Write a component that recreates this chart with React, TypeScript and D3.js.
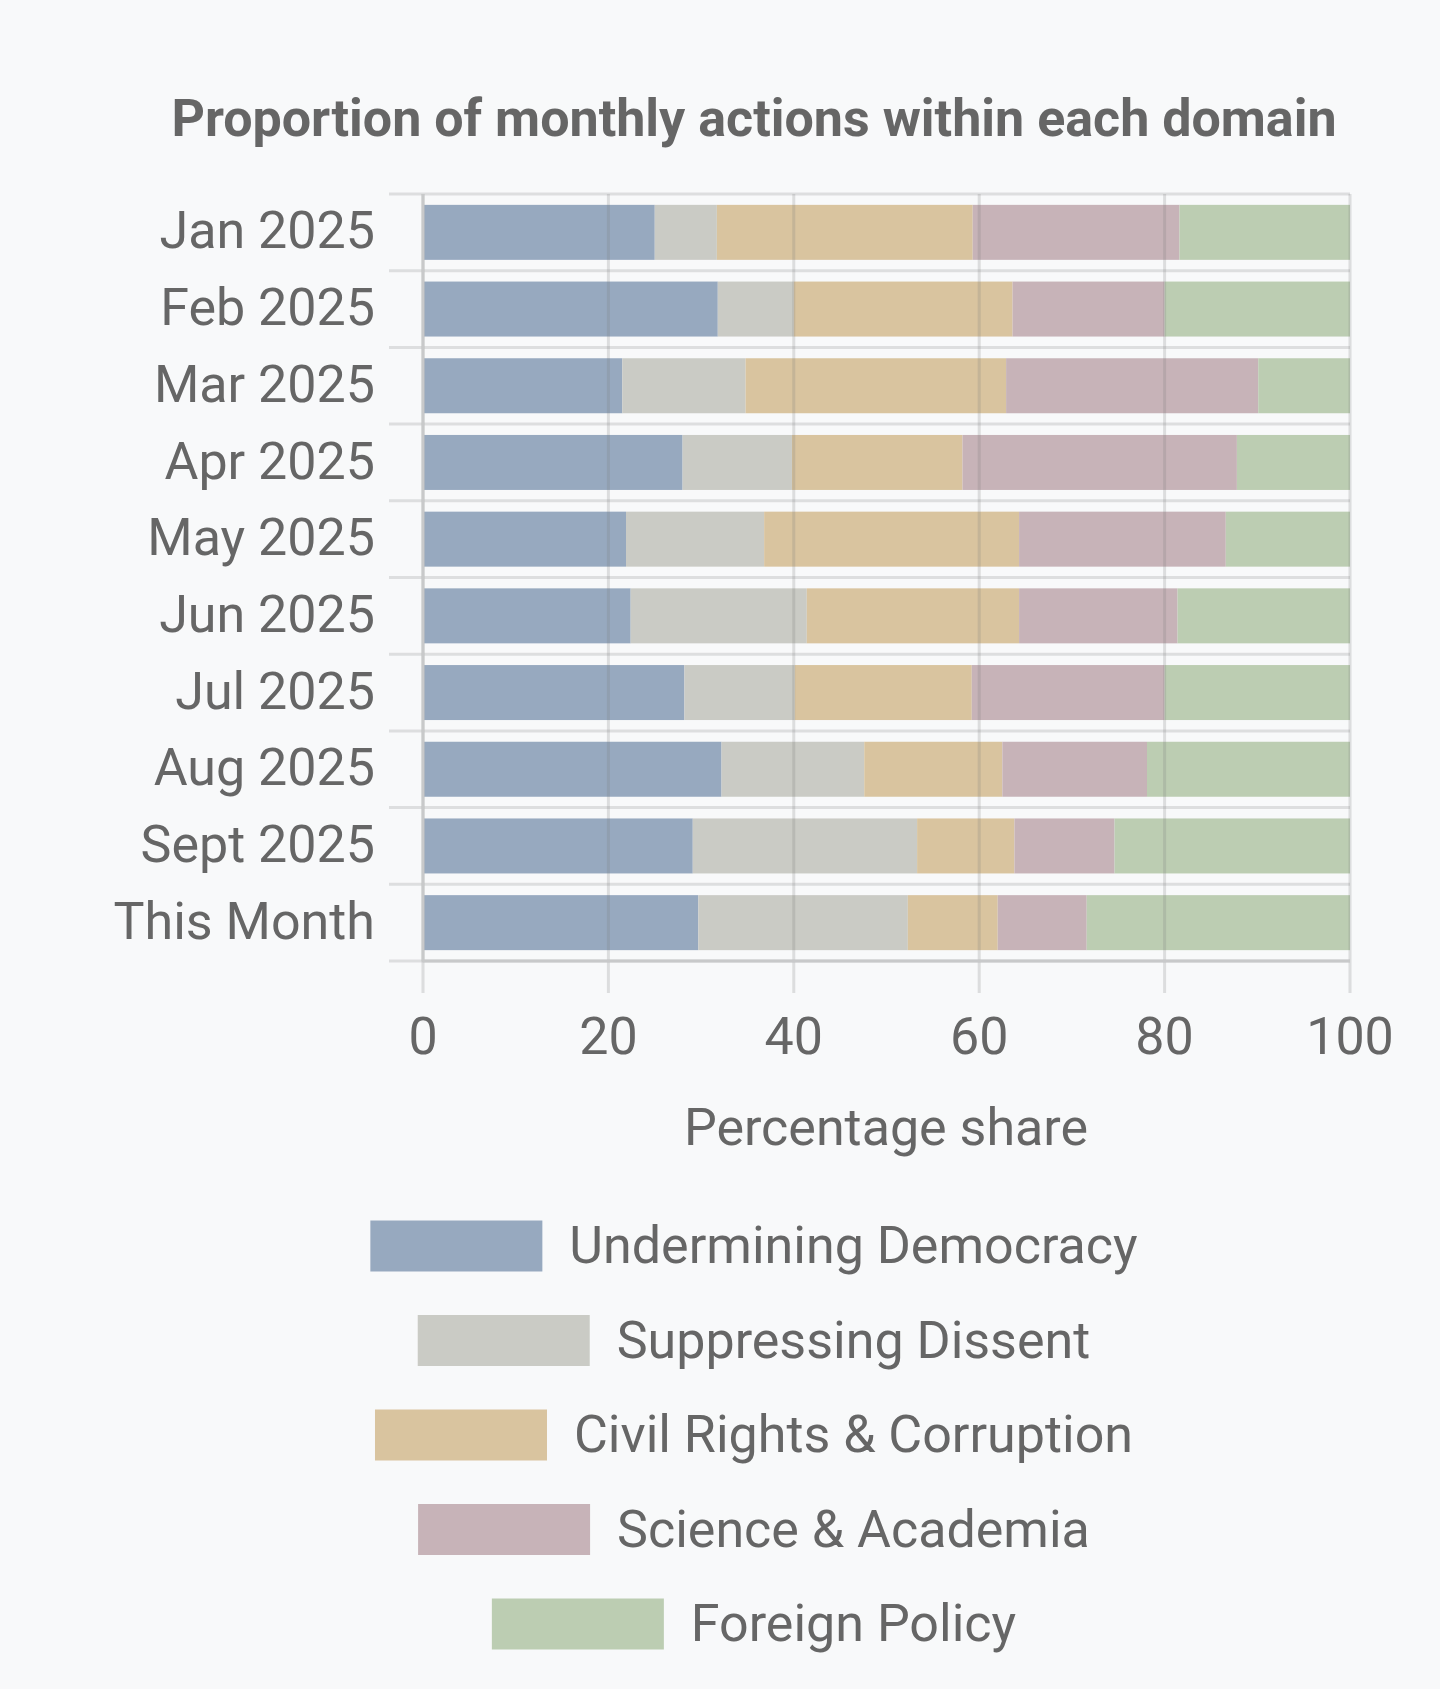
// @ts-nocheck
import * as d3 from "d3";
import React from "react";

const months = [
  "Jan 2025",
  "Feb 2025",
  "Mar 2025",
  "Apr 2025",
  "May 2025",
  "Jun 2025",
  "Jul 2025",
  "Aug 2025",
  "Sept 2025",
  "This Month",
];

const domains = [
  "Undermining Democracy",
  "Suppressing Dissent",
  "Civil Rights & Corruption",
  "Science & Academia",
  "Foreign Policy",
];

// percentage share per month, same order as months
const undermining = [25.0, 31.8, 21.5, 28.0, 21.9, 22.4, 28.2, 32.2, 29.1, 29.7];
const suppressing = [6.7, 8.2, 13.3, 11.8, 14.9, 19.0, 11.9, 15.4, 24.2, 22.6];
const civilRights = [27.6, 23.6, 28.1, 18.4, 27.5, 22.9, 19.1, 14.9, 10.5, 9.7];
const science = [22.3, 16.4, 27.2, 29.6, 22.3, 17.1, 20.8, 15.6, 10.8, 9.6];
const foreign = [18.4, 20.0, 9.9, 12.2, 13.4, 18.6, 20.0, 21.9, 25.4, 28.4];

const colors = ["#97a9bf", "#cacbc5", "#d9c49f", "#c7b3b8", "#bccdb2"];
const xTicks = [0, 20, 40, 60, 80, 100];

const W = 1440;
const H = 1689;
const font = "Roboto, 'Noto Sans', sans-serif";
const ink = "#666666";

export default function App() {
  const series = [undermining, suppressing, civilRights, science, foreign];
  const rows = months.map((m, i) => {
    const r = { month: m };
    domains.forEach((d, k) => (r[d] = series[k][i]));
    return r;
  });
  const stacked = d3.stack().keys(domains)(rows);

  const x = d3.scaleLinear([0, 100], [423, 1350]);
  const y = d3
    .scaleBand(months, [194, 961])
    .paddingInner(0.283)
    .paddingOuter(0.1415);
  const color = d3.scaleOrdinal(domains, colors);
  const step = y.step();
  const edges = months.map((m) => y(m) - (step * y.paddingInner()) / 2);
  edges.push(y.range()[1]);

  const cx = 754;
  const legendY = d3.scalePoint(domains, [1246, 1624]);

  return (
    <svg
      width={W}
      height={H}
      style={{ position: "absolute", left: 0, top: 0 }}
      fontFamily={font}
    >
      <rect width={W} height={H} fill="#f8f9fa" />

      <text
        x={cx}
        y={136}
        textAnchor="middle"
        fontSize={52}
        fontWeight="bold"
        fill={ink}
      >
        Proportion of monthly actions within each domain
      </text>

      {/* band gridlines + y ticks */}
      <g stroke="#dddedf" strokeWidth={3}>
        {edges.map((e, i) => (
          <line key={i} x1={389} x2={x(100)} y1={e} y2={e} />
        ))}
      </g>

      {/* bars */}
      {stacked.map((s) => (
        <g key={s.key} fill={color(s.key)}>
          {s.map((d, i) => (
            <rect
              key={i}
              x={x(d[0])}
              y={y(d.data.month)}
              width={x(d[1]) - x(d[0])}
              height={y.bandwidth()}
            />
          ))}
        </g>
      ))}

      {/* vertical gridlines on top, ticks down */}
      <g stroke="#7a7a7a" strokeOpacity={0.22} strokeWidth={3}>
        {xTicks.map((t) => (
          <line key={t} x1={x(t)} x2={x(t)} y1={194} y2={993} />
        ))}
      </g>

      {/* domain lines */}
      <line x1={x(0)} x2={x(0)} y1={194} y2={961} stroke="#c8c9ca" strokeWidth={3} />
      <line x1={x(0)} x2={x(100)} y1={961} y2={961} stroke="#c8c9ca" strokeWidth={3} />

      {/* y labels */}
      <g fontSize={52} fill={ink} textAnchor="end">
        {months.map((m) => (
          <text key={m} x={375} y={y(m) + y.bandwidth() / 2} dy="0.31em">
            {m}
          </text>
        ))}
      </g>

      {/* x labels */}
      <g fontSize={52} fill={ink} textAnchor="middle">
        {xTicks.map((t) => (
          <text key={t} x={x(t)} y={1054}>
            {t}
          </text>
        ))}
      </g>

      <text x={886} y={1145} textAnchor="middle" fontSize={52} fill={ink}>
        Percentage share
      </text>

      {/* legend, each row centred */}
      <Legend cx={cx} legendY={legendY} color={color} />
    </svg>
  );
}

function Legend({ cx, legendY, color }) {
  const refs = React.useRef([]);
  const [widths, setWidths] = React.useState(domains.map(() => 0));
  React.useLayoutEffect(() => {
    setWidths(refs.current.map((el) => (el ? el.getComputedTextLength() : 0)));
  }, []);
  const sw = 172;
  const sh = 51;
  const gap = 27;
  return (
    <g fontSize={52} fill={ink}>
      {domains.map((d, i) => {
        const total = sw + gap + widths[i];
        const left = cx - total / 2;
        const cy = legendY(d);
        return (
          <g key={d}>
            <rect x={left} y={cy - sh / 2} width={sw} height={sh} fill={color(d)} />
            <text
              ref={(el) => (refs.current[i] = el)}
              x={left + sw + gap}
              y={cy}
              dy="0.33em"
            >
              {d}
            </text>
          </g>
        );
      })}
    </g>
  );
}
